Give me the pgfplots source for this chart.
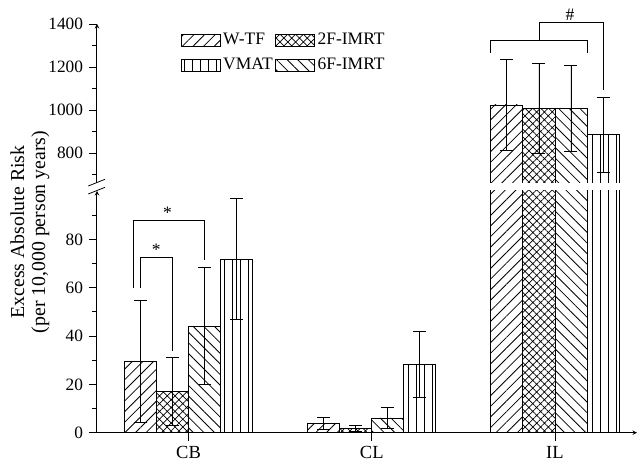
\documentclass[border=0pt]{standalone}
\usepackage{fontspec}
\setmainfont{Liberation Serif}
\usepackage{pgfplots}
\usepackage{pgfplotstable}
\pgfplotsset{compat=1.18}
\usetikzlibrary{patterns.meta}

\pgfplotstableread{
x y e
1 29.6 25.3
2 3.7 2.5
3 1023 210
}\wtf
\pgfplotstableread{
x y e
1 17.1 14.0
2 1.7 1.2
3 1008 210
}\twof
\pgfplotstableread{
x y e
1 44.1 24.2
2 6.1 4.5
3 1007 198
}\sixf
\pgfplotstableread{
x y e
1 71.8 25.0
2 28.4 13.7
3 884 175
}\vmat

\pgfplotsset{
  common/.style={
    scale only axis, width=540pt,
    xmin=0.5, xmax=3.448,
    ybar, bar width=0.175,
    clip mode=individual,
    axis line style={line width=1pt,-},
    tick style={line width=0.8pt, black},
    tick align=outside,
    major tick length=8pt, minor tick length=5pt,
    /pgf/number format/assume math mode=true,
    /pgf/number format/1000 sep={},
    y tick label style={font=\fontsize{17.3}{20}\selectfont},
    x tick label style={font=\fontsize{18.5}{20}\selectfont, inner ysep=0.5pt, yshift=-5pt},
  },
  barstyle/.style={draw=black, line width=0.8pt,
    error bars/y dir=both, error bars/y explicit,
    error bars/error mark options={rotate=90, mark size=6.5pt, line width=0.8pt, black},
    error bars/error bar style={line width=0.8pt, black}},
  legimg/.style={legend image code/.code={\draw[##1, line width=0.8pt] (0pt,-6pt) rectangle (39pt,6pt);}},
  pWTF/.style={pattern={Lines[angle=45,distance=7.5pt,line width=0.8pt]}},
  pTWO/.style={pattern={Hatch[angle=45,distance=5.5pt,line width=0.7pt]}},
  pSIX/.style={pattern={Lines[angle=-45,distance=7.5pt,line width=0.8pt]}},
  pVM/.style={pattern={Lines[angle=90,distance=8pt,line width=0.8pt]}},
}

\begin{document}
\fontsize{17.5}{20}\selectfont
\begin{tikzpicture}[font=\fontsize{17.5}{20}\selectfont]
\useasboundingbox (0,0) rectangle (638pt,462pt);

% lower axis
\begin{axis}[common,
  at={(97pt,29.3pt)}, anchor=south west, height=241.7pt,
  ymin=0, ymax=100,
  axis x line=bottom, axis y line=left,
  xtick={1,2,3}, xticklabels={CB,CL,IL},
  ytick={0,20,40,60,80}, minor ytick={10,30,50,70,90},
  xtick align=outside, ytick align=outside,
]
\addplot[barstyle, pWTF, bar shift=-0.2625] table[x=x,y=y,y error=e]{\wtf};
\addplot[barstyle, pTWO, bar shift=-0.0875] table[x=x,y=y,y error=e]{\twof};
\addplot[barstyle, pSIX, bar shift=0.0875] table[x=x,y=y,y error=e]{\sixf};
\addplot[barstyle, pVM, bar shift=0.2625] table[x=x,y=y,y error=e]{\vmat};
% significance brackets
\draw[line width=0.8pt] (axis cs:0.7375,60) -- (axis cs:0.7375,72.6) -- (axis cs:0.9125,72.6) -- (axis cs:0.9125,33.6);
\draw[line width=0.8pt] (axis cs:0.6995,60) -- (axis cs:0.6995,87.7) -- (axis cs:1.0875,87.7) -- (axis cs:1.0875,71.5);
\node[anchor=base, inner sep=0pt] at (axis cs:0.8235,73.4) {*};
\node[anchor=base, inner sep=0pt] at (axis cs:0.885,88.5) {*};
\end{axis}

% upper axis
\begin{axis}[common,
  at={(97pt,279pt)}, anchor=south west, height=159pt,
  ymin=660, ymax=1400,
  axis x line=none, axis y line=left,
  xtick=\empty,
  ytick={800,1000,1200,1400}, minor ytick={700,900,1100,1300},
  ytick align=outside,
  restrict x to domain=2.5:3.5,
  legend columns=2,
  legend cell align=left,
  legend style={draw=none, fill=none, inner sep=0pt, anchor=north west,
    at={(axis description cs:0.155,0.95)},
    nodes={inner xsep=2.5pt, inner ysep=1pt},
    /tikz/every odd column/.append style={column sep=0pt},
    row sep=9pt},
]
\addplot[barstyle, legimg, pWTF, bar shift=-0.2625] table[x=x,y=y,y error=e]{\wtf};
\addlegendentry{W-TF}
\addplot[barstyle, legimg, pTWO, bar shift=-0.0875] table[x=x,y=y,y error=e]{\twof};
\addlegendentry{2F-IMRT}
\addplot[barstyle, legimg, pVM, bar shift=0.2625] table[x=x,y=y,y error=e]{\vmat};
\addlegendentry{VMAT}
\addplot[barstyle, legimg, pSIX, bar shift=0.0875] table[x=x,y=y,y error=e]{\sixf};
\addlegendentry{6F-IMRT}
\draw[line width=0.8pt] (axis cs:2.650,1266) -- (axis cs:2.650,1322) -- (axis cs:3.175,1322) -- (axis cs:3.175,1266);
\draw[line width=0.8pt] (axis cs:2.9125,1322) -- (axis cs:2.9125,1406) -- (axis cs:3.2625,1406) -- (axis cs:3.2625,1092);
\node[anchor=base, inner sep=0pt] at (axis cs:3.082,1418) {\#};
\end{axis}

% axis break marks
\fill[white] (88.3pt,268pt) -- (105pt,274.7pt) -- (105pt,282.7pt) -- (88.3pt,276pt) -- cycle;
\draw[line width=0.8pt] (88.3pt,276pt) -- (105pt,282.7pt);
\draw[line width=0.8pt] (88.3pt,268pt) -- (105pt,274.7pt);

% y label
\node[rotate=90, align=center, inner sep=0pt, font=\fontsize{19.8}{21}\selectfont] at (30pt,230pt) {Excess Absolute Risk\\(per 10,000 person years)};
\end{tikzpicture}
\end{document}
